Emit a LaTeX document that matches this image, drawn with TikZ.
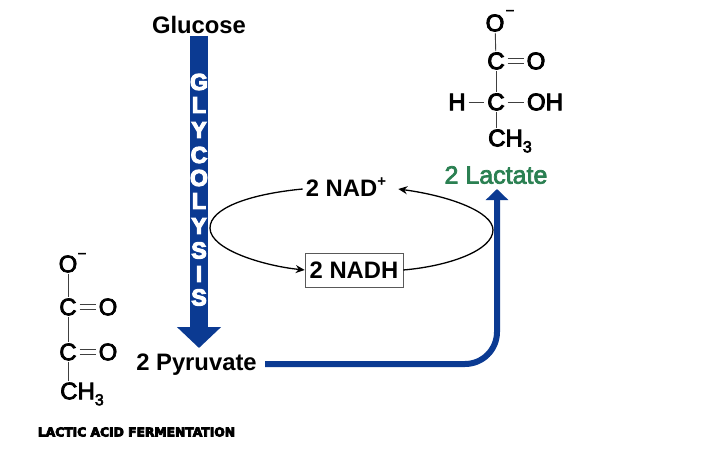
\documentclass[tikz,border=0pt]{standalone}
\usepackage{fontspec}
\setmainfont{Liberation Sans}
\newfontfamily\semib{Liberation Sans Bold}
\newfontfamily\medw[FakeBold=4]{Liberation Sans}
\newfontfamily\lightw[FakeBold=3]{Liberation Sans}
\newfontfamily\glyf[FakeBold=5]{Liberation Sans Bold}
\newfontfamily\capfont[FakeBold=6]{DejaVu Sans Bold}
\usetikzlibrary{arrows.meta,calc}
\definecolor{pathblue}{RGB}{11,58,146}
\definecolor{lacgreen}{RGB}{43,128,82}
\tikzset{
  x=1pt,y=-1pt,
  lab/.style={inner sep=0pt,font=\semib\fontsize{23.8}{26}\selectfont},
  atom/.style={inner sep=0pt,outer xsep=3pt,outer ysep=1.5pt,font=\medw\fontsize{24}{26}\selectfont},
  pyatom/.style={atom,font=\lightw\fontsize{24}{26}\selectfont},
  minus/.style={inner sep=0pt,font=\medw\fontsize{13}{13}\selectfont},
  gly/.style={inner sep=0pt,text=white,font=\glyf\fontsize{23}{25}\selectfont},
  bond/.style={line width=0.9pt,draw=black!75},
  cyc/.style={line width=1.3pt,draw=black},
  cycarrow/.style={cyc,-{Stealth[length=9pt,width=8pt]}},
  bigarrow/.style={line width=18pt,draw=pathblue,-{Triangle[length=21pt,width=43pt]}},
  lactarrow/.style={line width=6pt,draw=pathblue,rounded corners=32pt,-{Triangle[length=11pt,width=22pt]}},
}
\begin{document}
\begin{tikzpicture}
\useasboundingbox (0,0) rectangle (707,452);
% labels
\node[lab] (glucose) at (199,25) {Glucose};
\node[lab] (pyruvate) at (196.5,364.5) {2 Pyruvate};
\node[lab,text=lacgreen,font=\lightw\fontsize{25}{26}\selectfont] (lactate) at (496,175) {2 Lactate};
\node[lab] (nad) at (346,187) {2 NAD\raisebox{0.42em}{\fontsize{15}{15}\selectfont +}};
\node[lab,draw=black!65,line width=0.6pt,minimum width=98pt,minimum height=34pt] (nadh) at (354,270) {2 NADH};
\node[inner sep=0pt,font=\capfont\fontsize{12.3}{13}\selectfont] (title) at (136.5,432) {LACTIC ACID FERMENTATION};
% glycolysis arrow
\coordinate (gtop) at (199,36);
\coordinate (gtip) at (199,348);
\draw[bigarrow] (gtop) -- (gtip);
\foreach \nm/\ch/\yy in {g1/G/82,g2/L/105,g3/Y/130,g4/C/155,g5/O/178,g6/L/201,g7/Y/226,g8/S/250.5,g9/I/274,g10/S/297.5}{
  \node[gly] (\nm) at (199,\yy) {\ch};
}
% cycle
\coordinate (cl) at (210,228);
\coordinate (cr) at (493,230);
\draw[cycarrow] ($(nad.west)+(-3,2)$)
  .. controls (250,194) and (210,208) .. (cl)
  .. controls (210,250) and (265,266) .. (nadh.west);
\draw[cycarrow] (nadh.east)
  .. controls (450,266) and (493,250) .. (cr)
  .. controls (493,212) and (450,196) .. ($(nad.east)+(12,2)$);
% lactate arrow
\coordinate (pstart) at (265,364);
\coordinate (pturn) at (497,364);
\coordinate (ptip) at (497,189);
\draw[lactarrow] (pstart) -- (pturn) -- (ptip);
% lactate structure
\node[atom] (lo) at (495,23) {O};
\node[minus] (lm) at (510,12) {–};
\node[atom] (lc1) at (496,61) {C};
\node[atom] (lo1) at (536,61) {O};
\node[atom] (lc2) at (496,102) {C};
\node[atom] (lh) at (457,102) {H};
\node[atom] (loh) at (545,102) {OH};
\node[atom] (lch) at (510,141) {CH\raisebox{-0.25em}{\fontsize{16}{16}\selectfont 3}};
\draw[bond] (lo) -- (lc1);
\draw[bond] (lc1) -- (lc2);
\draw[bond] (lc2) -- (lc2 |- lch.north);
\draw[bond] ([yshift=-2.5pt]lc1.east) -- ([yshift=-2.5pt]lo1.west);
\draw[bond] ([yshift=2.5pt]lc1.east) -- ([yshift=2.5pt]lo1.west);
\draw[bond] (lh) -- (lc2);
\draw[bond] (lc2) -- (loh);
% pyruvate structure
\node[pyatom] (po) at (68,264) {O};
\node[minus] (pm) at (82,255) {–};
\node[pyatom] (pc1) at (68,307) {C};
\node[pyatom] (po1) at (108,307) {O};
\node[pyatom] (pc2) at (68,352) {C};
\node[pyatom] (po2) at (108,352) {O};
\node[pyatom] (pch) at (82,394) {CH\raisebox{-0.25em}{\fontsize{16}{16}\selectfont 3}};
\draw[bond] (po) -- (pc1);
\draw[bond] (pc1) -- (pc2);
\draw[bond] (pc2) -- (pc2 |- pch.north);
\draw[bond] ([yshift=-2.5pt]pc1.east) -- ([yshift=-2.5pt]po1.west);
\draw[bond] ([yshift=2.5pt]pc1.east) -- ([yshift=2.5pt]po1.west);
\draw[bond] ([yshift=-2.5pt]pc2.east) -- ([yshift=-2.5pt]po2.west);
\draw[bond] ([yshift=2.5pt]pc2.east) -- ([yshift=2.5pt]po2.west);
\end{tikzpicture}
\end{document}
